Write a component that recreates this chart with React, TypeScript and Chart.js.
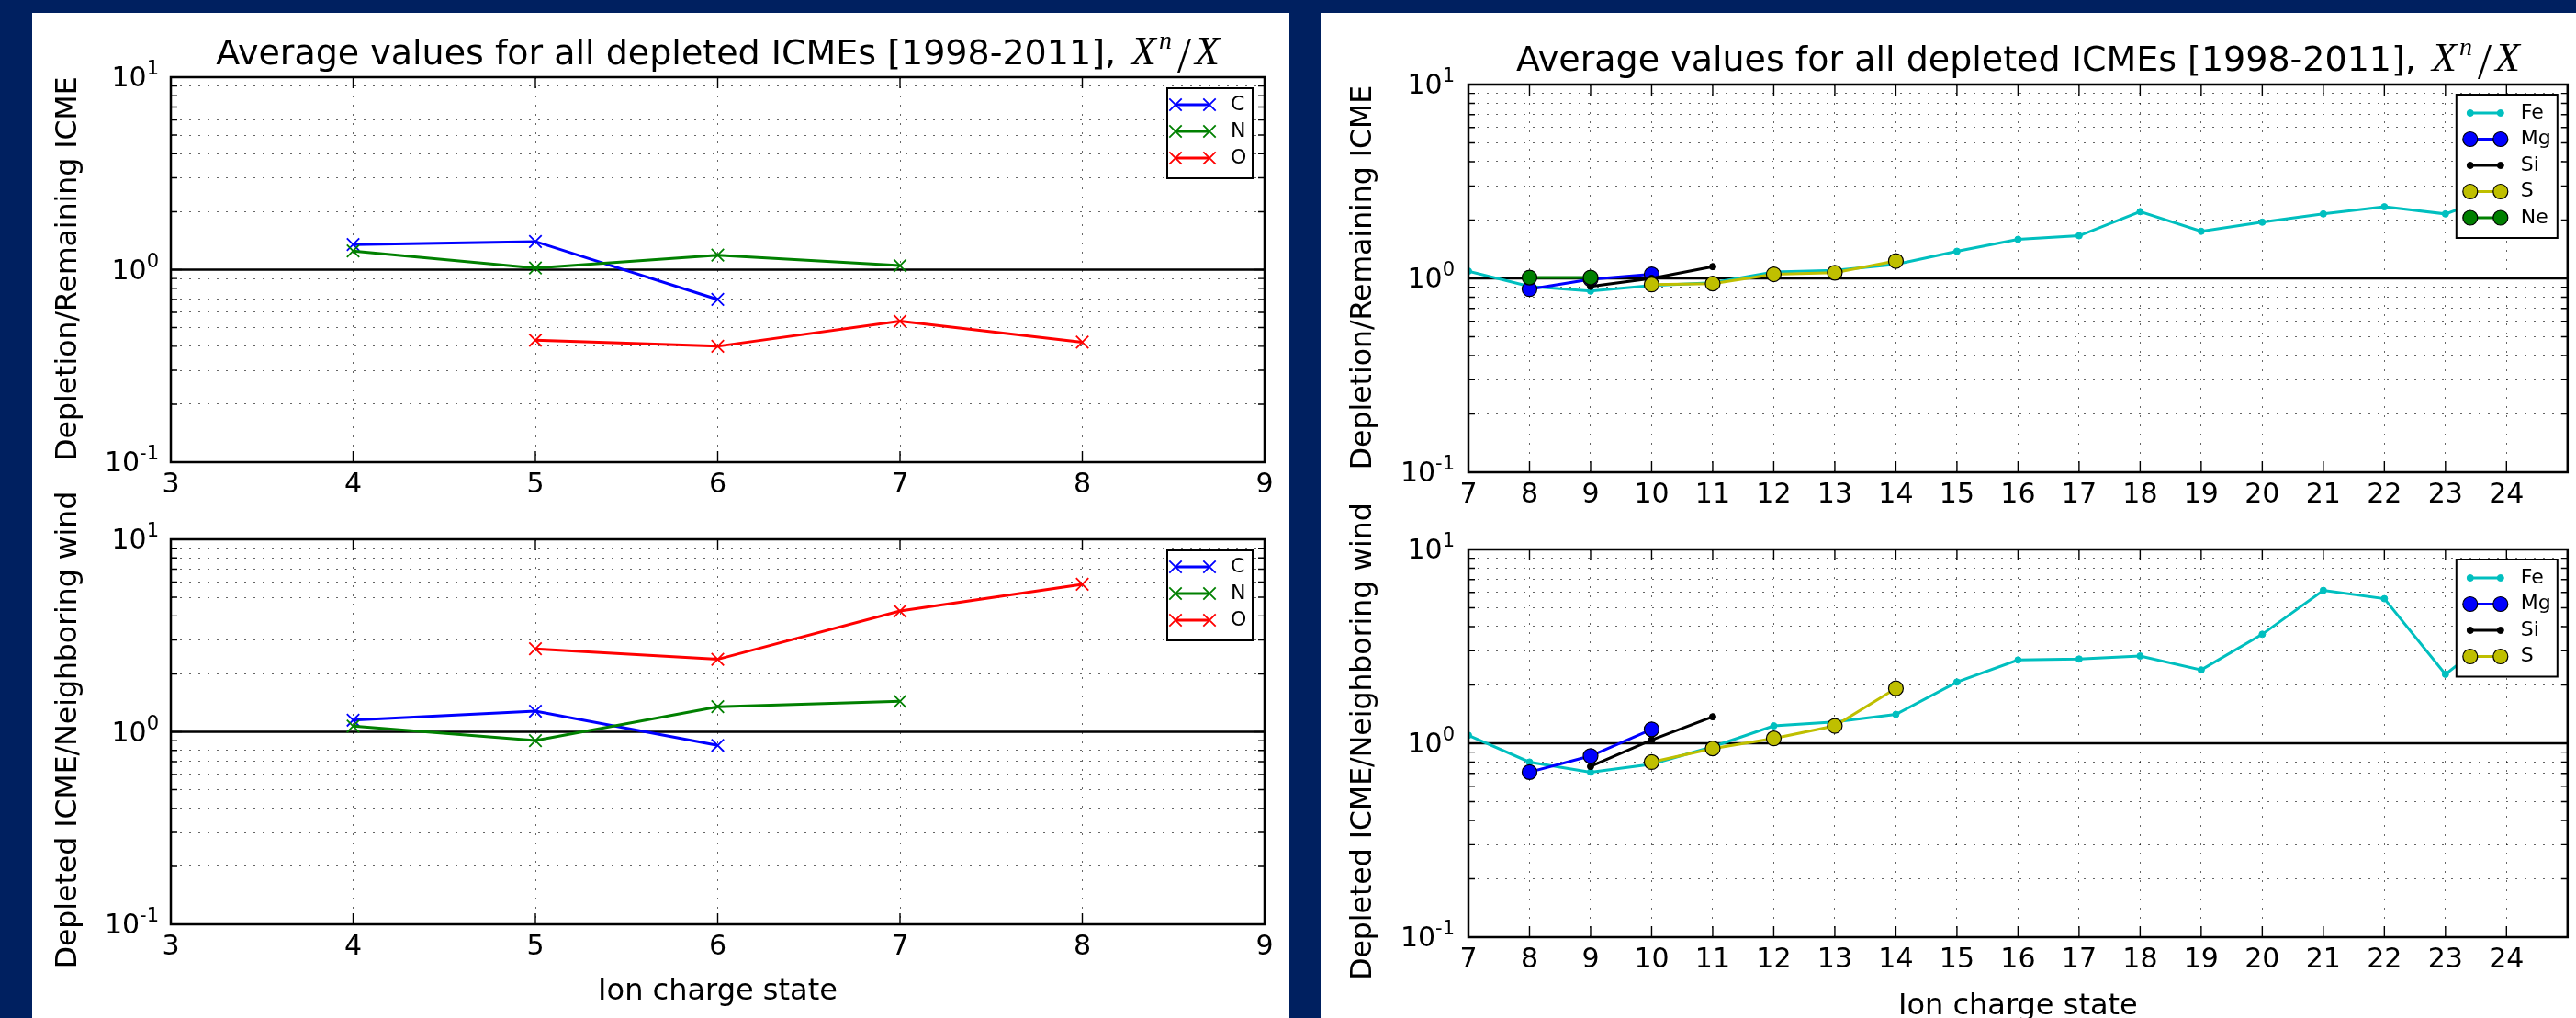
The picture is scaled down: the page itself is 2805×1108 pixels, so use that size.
import React, { useEffect, useRef } from 'react';
import Chart from 'chart.js/auto';

// ---------------- data ----------------
const titleText = 'Average values for all depleted ICMEs [1998-2011], ';
const ylabelTop = 'Depletion/Remaining ICME';
const ylabelBottom = 'Depleted ICME/Neighboring wind';
const xlabelText = 'Ion charge state';

// y grid (log) and decade labels
const yGridValues = [0.1, 0.2, 0.3, 0.4, 0.5, 0.6, 0.7, 0.8, 0.9, 1, 2, 3, 4, 5, 6, 7, 8, 9, 10];
const yDecades = [0.1, 1, 10];
const yDecadeExponents = ['-1', '0', '1'];

// x ranges
const leftRange = [3, 9];
const rightRange = [7, 25];
const rightLastLabel = 24;

// Left panel: C, N, O
const cCharge = [4, 5, 6];
const nCharge = [4, 5, 6, 7];
const oCharge = [5, 6, 7, 8];
const cDepletion = [1.35, 1.40, 0.70];
const nDepletion = [1.25, 1.02, 1.19, 1.05];
const oDepletion = [0.43, 0.40, 0.54, 0.42];
const cNeighbor = [1.15, 1.28, 0.85];
const nNeighbor = [1.07, 0.90, 1.35, 1.44];
const oNeighbor = [2.70, 2.38, 4.24, 5.84];

// Right panel: Fe, Mg, Si, S, Ne
const feCharge = [7, 8, 9, 10, 11, 12, 13, 14, 15, 16, 17, 18, 19, 20, 21, 22, 23, 24];
const feDepletion = [1.09, 0.91, 0.86, 0.92, 0.95, 1.08, 1.10, 1.18, 1.38, 1.59, 1.66, 2.21, 1.75, 1.95, 2.15, 2.34, 2.15, 2.8];
const feNeighbor = [1.10, 0.80, 0.71, 0.78, 0.96, 1.23, 1.29, 1.41, 2.07, 2.69, 2.72, 2.82, 2.39, 3.65, 6.15, 5.57, 2.27, 4.0];
const mgCharge = [8, 9, 10];
const mgDepletion = [0.88, 0.99, 1.05];
const mgNeighbor = [0.71, 0.86, 1.18];
const siCharge = [9, 10, 11];
const siDepletion = [0.91, 1.00, 1.15];
const siNeighbor = [0.76, 1.04, 1.37];
const sCharge = [10, 11, 12, 13, 14];
const sDepletion = [0.93, 0.94, 1.05, 1.07, 1.23];
const sNeighbor = [0.80, 0.94, 1.06, 1.23, 1.92];
const neCharge = [8, 9];
const neDepletion = [1.01, 1.01];

// ---------------- styles ----------------
const NAVY = '#002060';
const FONT = "'DejaVu Sans'";
const COL = {
  C: '#0000ff', N: '#008000', O: '#ff0000',
  Fe: '#00bfbf', Mg: '#0000ff', Si: '#000000', S: '#bfbf00', Ne: '#008000',
};

type Marker = 'x' | 'o' | '.';
interface Series { label: string; x: number[]; y: number[]; color: string; marker: Marker; }

const leftTop: Series[] = [
  { label: 'C', x: cCharge, y: cDepletion, color: COL.C, marker: 'x' },
  { label: 'N', x: nCharge, y: nDepletion, color: COL.N, marker: 'x' },
  { label: 'O', x: oCharge, y: oDepletion, color: COL.O, marker: 'x' },
];
const leftBottom: Series[] = [
  { label: 'C', x: cCharge, y: cNeighbor, color: COL.C, marker: 'x' },
  { label: 'N', x: nCharge, y: nNeighbor, color: COL.N, marker: 'x' },
  { label: 'O', x: oCharge, y: oNeighbor, color: COL.O, marker: 'x' },
];
const rightTop: Series[] = [
  { label: 'Fe', x: feCharge, y: feDepletion, color: COL.Fe, marker: '.' },
  { label: 'Mg', x: mgCharge, y: mgDepletion, color: COL.Mg, marker: 'o' },
  { label: 'Si', x: siCharge, y: siDepletion, color: COL.Si, marker: '.' },
  { label: 'S', x: sCharge, y: sDepletion, color: COL.S, marker: 'o' },
  { label: 'Ne', x: neCharge, y: neDepletion, color: COL.Ne, marker: 'o' },
];
const rightBottom: Series[] = [
  { label: 'Fe', x: feCharge, y: feNeighbor, color: COL.Fe, marker: '.' },
  { label: 'Mg', x: mgCharge, y: mgNeighbor, color: COL.Mg, marker: 'o' },
  { label: 'Si', x: siCharge, y: siNeighbor, color: COL.Si, marker: '.' },
  { label: 'S', x: sCharge, y: sNeighbor, color: COL.S, marker: 'o' },
];

interface LegendCfg { right: number; top: number; width: number; first: number; row: number; bottom: number; lineX0: number; lineX1: number; textX: number; }
interface PanelCfg {
  canvas: { x: number; y: number; w: number; h: number };
  pad: { left: number; top: number; right: number };
  xAxisHeight: number;
  range: number[];
  lastLabel: number;
  series: Series[];
  title?: { y: number };
  ylabel: { text: string; x: number; dy: number };
  xlabel?: { text: string; y: number };
  legend: LegendCfg;
  yLabelGap: number;
}

const legendLeft: LegendCfg = { right: 13, top: 12, width: 93, first: 18, row: 29, bottom: 22, lineX0: 9, lineX1: 46, textX: 69 };
const legendRight: LegendCfg = { right: 11, top: 11, width: 110, first: 20, row: 28.5, bottom: 22, lineX0: 15, lineX1: 48, textX: 70 };

const panels: PanelCfg[] = [
  {
    canvas: { x: 35, y: 14, w: 1369, h: 534 }, pad: { left: 151, top: 70, right: 27 }, xAxisHeight: 45,
    range: leftRange, lastLabel: 9, series: leftTop, title: { y: 56 },
    ylabel: { text: ylabelTop, x: 48, dy: -1 }, legend: legendLeft, yLabelGap: 13,
  },
  {
    canvas: { x: 35, y: 470, w: 1369, h: 638 }, pad: { left: 151, top: 117, right: 27 }, xAxisHeight: 102,
    range: leftRange, lastLabel: 9, series: leftBottom,
    ylabel: { text: ylabelBottom, x: 48, dy: -2 }, xlabel: { text: xlabelText, y: 618 }, legend: legendLeft, yLabelGap: 13,
  },
  {
    canvas: { x: 1438, y: 14, w: 1367, h: 546 }, pad: { left: 161, top: 78, right: 7 }, xAxisHeight: 46,
    range: rightRange, lastLabel: rightLastLabel, series: rightTop, title: { y: 63 },
    ylabel: { text: ylabelTop, x: 55, dy: -1 }, legend: legendRight, yLabelGap: 15,
  },
  {
    canvas: { x: 1438, y: 480, w: 1367, h: 628 }, pad: { left: 161, top: 118, right: 7 }, xAxisHeight: 88,
    range: rightRange, lastLabel: rightLastLabel, series: rightBottom,
    ylabel: { text: ylabelBottom, x: 55, dy: -2 }, xlabel: { text: xlabelText, y: 624 }, legend: legendRight, yLabelGap: 15,
  },
];

function drawMarker(ctx: CanvasRenderingContext2D, d: any, x: number, y: number) {
  const r = d.pointRadius;
  ctx.save();
  ctx.setLineDash([]);
  if (d.pointStyle === 'crossRot') {
    const o = r * Math.SQRT1_2;
    ctx.strokeStyle = d.pointBorderColor;
    ctx.lineWidth = d.pointBorderWidth;
    ctx.beginPath();
    ctx.moveTo(x - o, y - o); ctx.lineTo(x + o, y + o);
    ctx.moveTo(x - o, y + o); ctx.lineTo(x + o, y - o);
    ctx.stroke();
  } else {
    ctx.beginPath();
    ctx.arc(x, y, r, 0, Math.PI * 2);
    ctx.fillStyle = d.pointBackgroundColor;
    ctx.fill();
    ctx.strokeStyle = d.pointBorderColor;
    ctx.lineWidth = d.pointBorderWidth;
    ctx.stroke();
  }
  ctx.restore();
}

function drawTitle(ctx: CanvasRenderingContext2D, cx: number, y: number) {
  const fMain = `38px ${FONT}`;
  const fX = "italic 44px 'Liberation Serif'";
  const fN = "italic 28px 'Liberation Serif'";
  const fS = "54px 'Liberation Serif'";
  ctx.font = fMain; const wMain = ctx.measureText(titleText).width;
  ctx.font = fX; const wX = ctx.measureText('X').width;
  ctx.font = fN; const wN = ctx.measureText('n').width;
  ctx.font = fS; const wS = ctx.measureText('/').width;
  const g1 = 5, g2 = 3, g3 = 6, g4 = 4;
  const total = wMain + g1 + wX + g2 + wN + g3 + wS + g4 + wX;
  let x = cx - total / 2;
  ctx.textAlign = 'left';
  ctx.textBaseline = 'alphabetic';
  ctx.fillStyle = '#000';
  ctx.font = fMain; ctx.fillText(titleText, x, y); x += wMain + g1;
  ctx.font = fX; ctx.fillText('X', x, y); x += wX + g2;
  ctx.font = fN; ctx.fillText('n', x, y - 17); x += wN + g3;
  ctx.font = fS; ctx.fillText('/', x, y + 8); x += wS + g4;
  ctx.font = fX; ctx.fillText('X', x, y);
}

function makePlugin(cfg: PanelCfg) {
  return {
    id: 'mplDecor',
    afterDatasetsDraw(chart: any) {
      const { ctx, chartArea: a } = chart;
      const xs = chart.scales.x;
      const ys = chart.scales.y;
      ctx.save();
      ctx.setLineDash([]);
      ctx.strokeStyle = '#000';
      ctx.lineWidth = 1.4;
      ctx.beginPath();
      xs.ticks.forEach((t: any) => {
        const px = xs.getPixelForValue(t.value);
        ctx.moveTo(px, a.bottom); ctx.lineTo(px, a.bottom - 12);
        ctx.moveTo(px, a.top); ctx.lineTo(px, a.top + 12);
      });
      ys.ticks.forEach((t: any) => {
        const py = ys.getPixelForValue(t.value);
        const L = yDecades.some((d) => Math.abs(d - t.value) < 1e-9) ? 12 : 7;
        ctx.moveTo(a.left, py); ctx.lineTo(a.left + L, py);
        ctx.moveTo(a.right, py); ctx.lineTo(a.right - L, py);
      });
      ctx.stroke();
      ctx.lineWidth = 2.5;
      ctx.strokeRect(a.left, a.top, a.right - a.left, a.bottom - a.top);

      // legend
      const items = chart.data.datasets.filter((d: any) => !d.isRef);
      const L = cfg.legend;
      const bx = a.right - L.right - L.width;
      const by = a.top + L.top;
      const bh = L.first + (items.length - 1) * L.row + L.bottom;
      ctx.fillStyle = '#fff';
      ctx.fillRect(bx, by, L.width, bh);
      ctx.lineWidth = 2;
      ctx.strokeStyle = '#000';
      ctx.strokeRect(bx, by, L.width, bh);
      items.forEach((d: any, i: number) => {
        const y = by + L.first + i * L.row;
        ctx.strokeStyle = d.borderColor;
        ctx.lineWidth = d.borderWidth;
        ctx.beginPath();
        ctx.moveTo(bx + L.lineX0, y); ctx.lineTo(bx + L.lineX1, y);
        ctx.stroke();
        drawMarker(ctx, d, bx + L.lineX0, y);
        drawMarker(ctx, d, bx + L.lineX1, y);
        ctx.fillStyle = '#000';
        ctx.font = `22px ${FONT}`;
        ctx.textAlign = 'left';
        ctx.textBaseline = 'middle';
        ctx.fillText(d.label, bx + L.textX, y);
      });
      ctx.restore();
    },
    afterDraw(chart: any) {
      const { ctx, chartArea: a } = chart;
      const ys = chart.scales.y;
      ctx.save();
      ctx.fillStyle = '#000';
      ctx.textAlign = 'left';
      ctx.textBaseline = 'alphabetic';
      yDecades.forEach((v, i) => {
        const py = ys.getPixelForValue(v);
        const exp = yDecadeExponents[i];
        ctx.font = `30px ${FONT}`; const wBase = ctx.measureText('10').width;
        ctx.font = `21px ${FONT}`; const wExp = ctx.measureText(exp).width;
        const right = a.left - cfg.yLabelGap;
        ctx.font = `30px ${FONT}`; ctx.fillText('10', right - wExp - wBase, py + 10);
        ctx.font = `21px ${FONT}`; ctx.fillText(exp, right - wExp, py - 3);
      });
      // y label
      ctx.save();
      ctx.translate(cfg.ylabel.x, (a.top + a.bottom) / 2 + cfg.ylabel.dy);
      ctx.rotate(-Math.PI / 2);
      ctx.font = `31.5px ${FONT}`;
      ctx.textAlign = 'center';
      ctx.fillText(cfg.ylabel.text, 0, 0);
      ctx.restore();
      if (cfg.xlabel) {
        ctx.font = `32px ${FONT}`;
        ctx.textAlign = 'center';
        ctx.fillText(cfg.xlabel.text, (a.left + a.right) / 2, cfg.xlabel.y);
      }
      if (cfg.title) drawTitle(ctx, (a.left + a.right) / 2, cfg.title.y);
      ctx.restore();
    },
  };
}

function buildConfig(cfg: PanelCfg): any {
  const n = cfg.series.length;
  const datasets: any[] = cfg.series.map((s, i) => ({
    label: s.label,
    data: s.x.map((x, k) => ({ x, y: s.y[k] })),
    borderColor: s.color,
    backgroundColor: s.color,
    borderWidth: 3,
    pointStyle: s.marker === 'x' ? 'crossRot' : 'circle',
    pointRadius: s.marker === 'x' ? 9.5 : s.marker === 'o' ? 8 : 3.5,
    pointBorderWidth: s.marker === 'o' ? 1.2 : s.marker === 'x' ? 1.8 : 1,
    pointBorderColor: s.marker === 'o' ? '#000' : s.color,
    pointBackgroundColor: s.color,
    tension: 0,
    fill: false,
    order: n - i,
  }));
  datasets.push({
    label: '',
    isRef: true,
    data: [{ x: cfg.range[0], y: 1 }, { x: cfg.range[1], y: 1 }],
    borderColor: '#000',
    borderWidth: 2.5,
    pointRadius: 0,
    fill: false,
    order: 1000,
  });
  return {
    type: 'line',
    data: { datasets },
    options: {
      animation: false,
      responsive: false,
      maintainAspectRatio: false,
      events: [],
      layout: { padding: { left: cfg.pad.left, top: cfg.pad.top, right: cfg.pad.right, bottom: 0 } },
      plugins: { legend: { display: false }, tooltip: { enabled: false }, title: { display: false } },
      scales: {
        x: {
          type: 'linear',
          min: cfg.range[0],
          max: cfg.range[1],
          afterFit: (s: any) => { s.height = cfg.xAxisHeight; },
          grid: { color: 'rgba(0,0,0,0.6)', lineWidth: 1, drawTicks: false },
          border: { display: false, dash: [2, 8] },
          ticks: {
            stepSize: 1,
            autoSkip: false,
            maxRotation: 0,
            minRotation: 0,
            padding: 7,
            color: '#000',
            font: { family: FONT, size: 30 },
            callback: (v: any) => (Number(v) > cfg.lastLabel ? '' : String(v)),
          },
        },
        y: {
          type: 'logarithmic',
          min: 0.1,
          max: 10,
          afterBuildTicks: (s: any) => { s.ticks = yGridValues.map((v) => ({ value: v })); },
          afterFit: (s: any) => { s.width = 0; },
          grid: { color: 'rgba(0,0,0,0.6)', lineWidth: 1, drawTicks: false },
          border: { display: false, dash: [2, 8] },
          ticks: { display: false, autoSkip: false },
        },
      },
    },
    plugins: [makePlugin(cfg)],
  };
}

function PanelChart({ cfg }: { cfg: PanelCfg }) {
  const ref = useRef<HTMLCanvasElement>(null);
  useEffect(() => {
    const chart = new Chart(ref.current as HTMLCanvasElement, buildConfig(cfg));
    return () => chart.destroy();
  }, [cfg]);
  const c = cfg.canvas;
  return (
    <canvas
      ref={ref}
      width={c.w}
      height={c.h}
      style={{ position: 'absolute', left: c.x, top: c.y, width: c.w, height: c.h }}
    />
  );
}

export default function App() {
  return (
    <div style={{ position: 'fixed', left: 0, top: 0, width: 2805, height: 1108, background: NAVY, overflow: 'hidden' }}>
      <div style={{ position: 'absolute', left: 35, top: 14, width: 1369, height: 1094, background: '#fff' }} />
      <div style={{ position: 'absolute', left: 1438, top: 14, width: 1367, height: 1094, background: '#fff' }} />
      {panels.map((p, i) => (
        <PanelChart key={i} cfg={p} />
      ))}
    </div>
  );
}
